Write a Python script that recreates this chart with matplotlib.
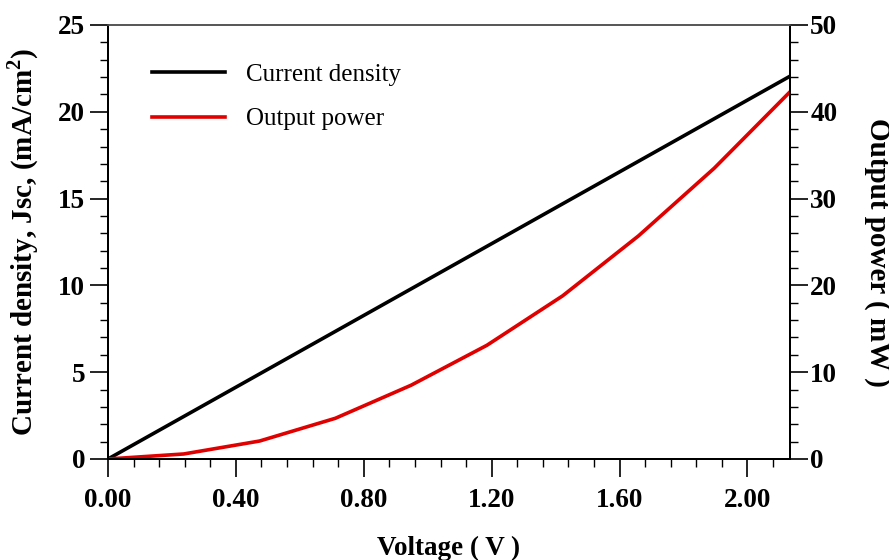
import matplotlib

matplotlib.use("Agg")

import matplotlib.pyplot as plt
from matplotlib.ticker import MultipleLocator, FormatStrFormatter

# Voltage sweep (V), current density (mA/cm^2) and output power (mW)
voltage = [0.00, 0.237, 0.474, 0.711, 0.948, 1.185, 1.422, 1.659, 1.896, 2.133]
current_density = [0.00, 2.45, 4.90, 7.35, 9.80, 12.25, 14.70, 17.15, 19.60, 22.05]
output_power = [0.00, 0.58, 2.07, 4.69, 8.5, 13.1, 18.8, 25.7, 33.5, 42.3]

plt.rcParams["font.family"] = ["Liberation Serif", "DejaVu Serif"]
plt.rcParams["mathtext.fontset"] = "custom"
plt.rcParams["mathtext.rm"] = "Liberation Serif"
plt.rcParams["mathtext.bf"] = "Liberation Serif:bold"

fig = plt.figure(figsize=(8.89, 5.6), dpi=100)
ax = fig.add_axes([108 / 889, 1 - 459 / 560, (790 - 108) / 889, (459 - 25) / 560])
ax2 = ax.twinx()

(l1,) = ax.plot(voltage, current_density, color="black", lw=2.6, label="Current density")
(l2,) = ax2.plot(voltage, output_power, color="#e00000", lw=2.6, label="Output power")

ax.set_xlim(0, 2.133)
ax.set_ylim(0, 25)
ax2.set_ylim(0, 50)

ax.xaxis.set_major_locator(MultipleLocator(0.4))
ax.xaxis.set_minor_locator(MultipleLocator(0.08))
ax.xaxis.set_major_formatter(FormatStrFormatter("%.2f"))
ax.yaxis.set_major_locator(MultipleLocator(5))
ax.yaxis.set_minor_locator(MultipleLocator(1))
ax2.yaxis.set_major_locator(MultipleLocator(10))
ax2.yaxis.set_minor_locator(MultipleLocator(2))

for a in (ax, ax2):
    a.tick_params(which="major", direction="out", length=13, width=1.2, labelsize=19.5)
    a.tick_params(which="minor", direction="out", length=6, width=1.0)
    for lab in a.get_xticklabels() + a.get_yticklabels():
        lab.set_fontweight("bold")
    for name in ("left", "right", "bottom"):
        a.spines[name].set_linewidth(1.4)
    a.spines["top"].set_color("#555555")
    a.spines["top"].set_linewidth(1.2)

ax.tick_params(axis="x", pad=8)
ax.tick_params(axis="y", pad=3.5)
ax2.tick_params(axis="y", pad=1.5)

ax.set_xlabel("Voltage ( V )", fontsize=19.5, fontweight="bold", labelpad=16)
ax.set_ylabel("Current density, Jsc, (mA/cm$^{\\mathbf{2}}$)", fontsize=21, fontweight="bold", labelpad=12)
ax2.set_ylabel("Output power ( mW )", fontsize=21, fontweight="bold", rotation=270,
               va="bottom", labelpad=19)
ax2.yaxis.label.set_y(0.475)

leg = ax.legend(
    handles=[l1, l2],
    loc="upper left",
    bbox_to_anchor=(0.032, 0.963),
    frameon=False,
    fontsize=18,
    handlelength=2.9,
    handletextpad=0.85,
    labelspacing=0.87,
)

fig.savefig("out.png", dpi=100)
